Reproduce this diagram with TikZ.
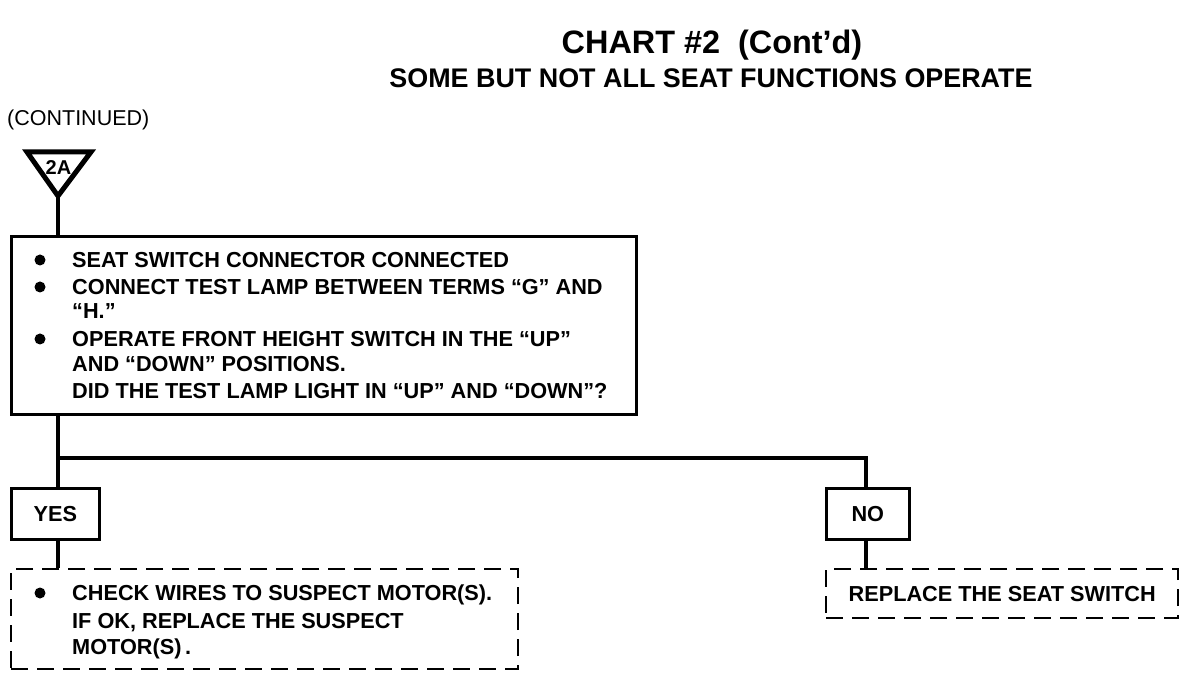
\documentclass[tikz,border=0pt]{standalone}
\usepackage{fontspec}
\setmainfont{Liberation Sans}
\begin{document}
\begin{tikzpicture}[x=1pt,y=-1pt,
  box/.style={draw, line width=2.6pt, inner sep=0pt, anchor=north west},
  dbox/.style={draw, line width=2.4pt, dash pattern=on 17pt off 9pt, inner sep=0pt, anchor=north west},
  conn/.style={line width=4.5pt},
  txt/.style={font=\fontsize{21.7}{24}\selectfont\bfseries, anchor=base west, inner sep=0pt},
  lbl/.style={font=\fontsize{21.7}{24}\selectfont\bfseries, inner sep=0pt},
  bul/.style={circle, fill=black, inner sep=0pt, minimum size=11pt}]
\useasboundingbox (0,0) rectangle (1200,676);
% titles
\node[font=\fontsize{32.4}{36}\selectfont\bfseries, inner sep=0pt] (title) at (712,45) {CHART \#2~~(Cont'd)};
\node[font=\fontsize{26.9}{30}\selectfont\bfseries, inner sep=0pt] (sub) at (711,78) {SOME BUT NOT ALL SEAT FUNCTIONS OPERATE};
\node[font=\fontsize{21.5}{24}\selectfont, anchor=west, inner sep=0pt] (cont) at (7,120) {(CONTINUED)};
% triangle connector symbol
\coordinate (tl) at (27,152);
\coordinate (tr) at (91,152);
\coordinate (apex) at (58,196);
\draw[line width=5pt, line join=miter] (tl) -- (tr) -- (apex) -- cycle;
\node[font=\fontsize{20}{22}\selectfont\bfseries, inner sep=0pt] (twoA) at (58.5,168) {2A};
% main box
\node[box, minimum width=625pt, minimum height=178pt] (main) at (10,235) {};
\node[bul] (b1) at (40,260) {};
\node[txt] (l1) at (72,267.5) {SEAT SWITCH CONNECTOR CONNECTED};
\node[bul] (b2) at (40,287) {};
\node[txt] (l2) at (72,294.5) {CONNECT TEST LAMP BETWEEN TERMS “G” AND};
\node[txt] (l3) at (72,318.5) {“H.”};
\node[bul] (b3) at (40,339) {};
\node[txt] (l4) at (72,346.5) {OPERATE FRONT HEIGHT SWITCH IN THE “UP”};
\node[txt] (l5) at (72,371) {AND “DOWN” POSITIONS.};
\node[txt] (l6) at (72,398.5) {DID THE TEST LAMP LIGHT IN “UP” AND “DOWN”?};
% yes / no boxes
\node[box, minimum width=88pt, minimum height=51pt] (yes) at (10,487) {};
\node[lbl] (yest) at (yes.center) {YES};
\node[box, minimum width=83pt, minimum height=51pt] (no) at (825,487) {};
\node[lbl] (not) at (no.center) {NO};
% result boxes
\node[dbox, minimum width=507pt, minimum height=100pt] (res1) at (10,568) {};
\node[bul] (b4) at (40,593) {};
\node[txt] (r1) at (72,600.5) {CHECK WIRES TO SUSPECT MOTOR(S).};
\node[txt] (r2) at (72,628.5) {IF OK, REPLACE THE SUSPECT};
\node[txt] (r3) at (72,654.5) {MOTOR(S)\,.};
\node[dbox, minimum width=352pt, minimum height=49pt] (res2) at (825,568) {};
\node[lbl] (r4) at (res2.center) {REPLACE THE SEAT SWITCH};
% connectors
\coordinate (j) at (58,458);
\coordinate (jn) at (866,458);
\draw[conn] (apex) -- (apex |- main.north);
\draw[conn] (main.south -| j) -- (j) -- (j |- yes.north);
\draw[conn] (j) -- (jn) -- (jn |- no.north);
\draw[conn] (yes.south -| j) -- (j |- res1.north);
\draw[conn] (no.south -| jn) -- (jn |- res2.north);
\end{tikzpicture}
\end{document}
